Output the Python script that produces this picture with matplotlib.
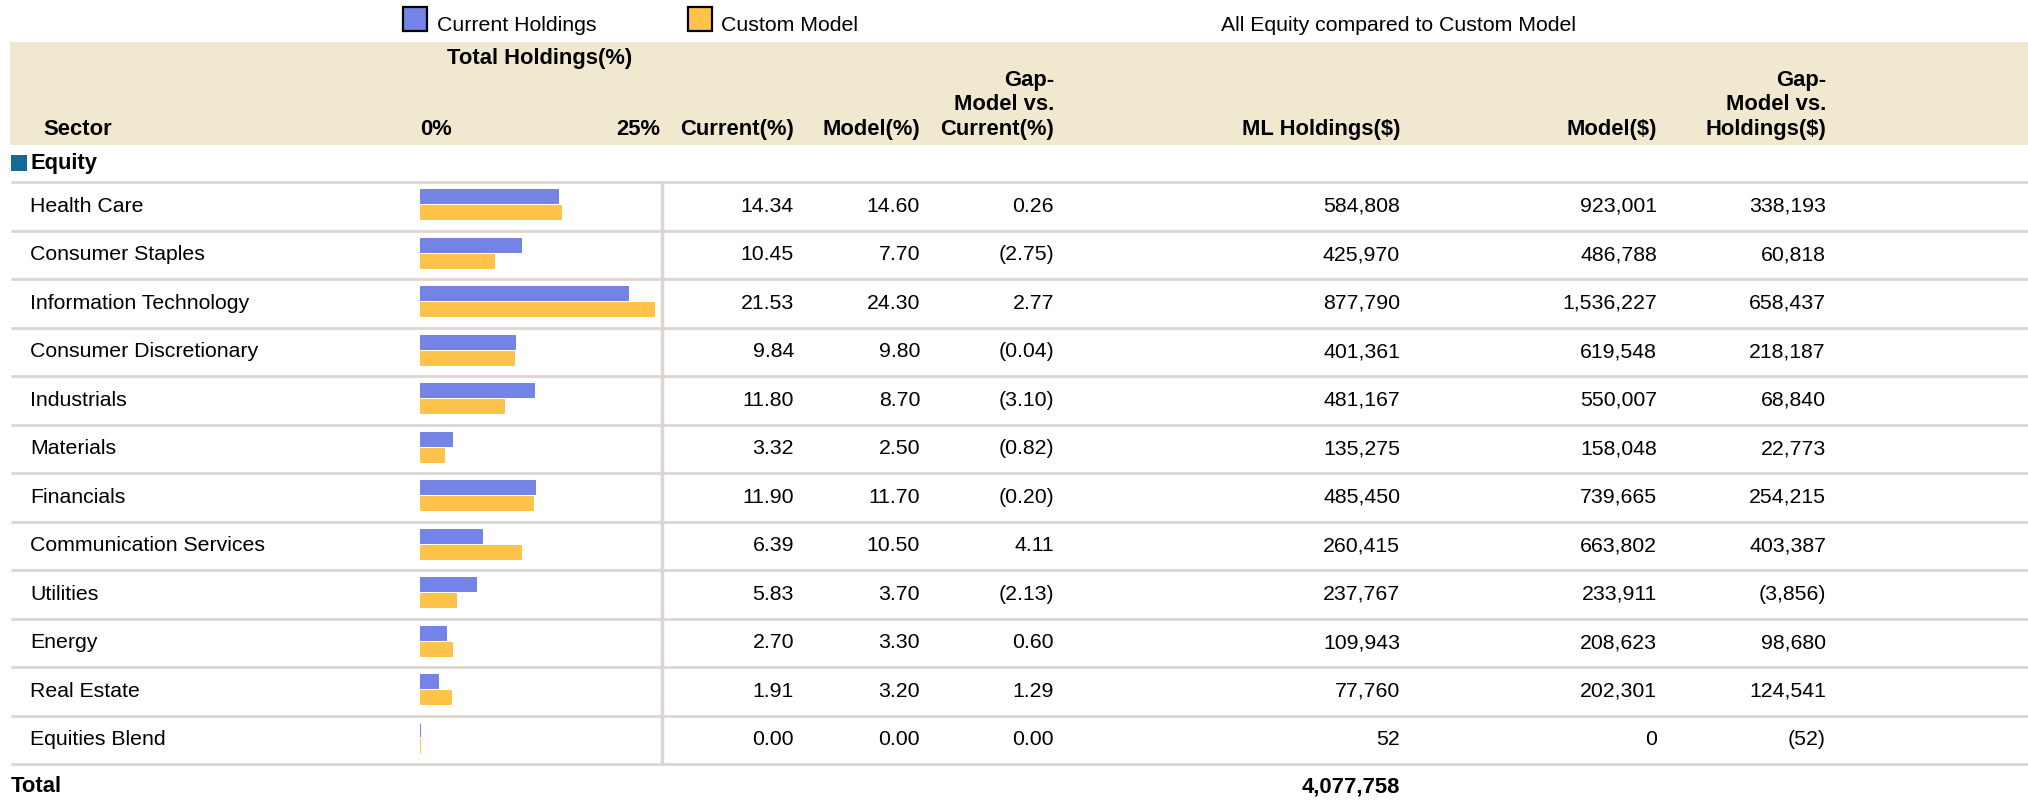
import numpy as np
import matplotlib.pyplot as plt
from matplotlib.patches import Rectangle

plt.rcParams['font.family'] = ['Liberation Sans', 'DejaVu Sans']

sectors = ['Health Care', 'Consumer Staples', 'Information Technology',
           'Consumer Discretionary', 'Industrials', 'Materials', 'Financials',
           'Communication Services', 'Utilities', 'Energy', 'Real Estate',
           'Equities Blend']
current_pct = [14.34, 10.45, 21.53, 9.84, 11.80, 3.32, 11.90, 6.39, 5.83, 2.70, 1.91, 0.00]
model_pct = [14.60, 7.70, 24.30, 9.80, 8.70, 2.50, 11.70, 10.50, 3.70, 3.30, 3.20, 0.00]
gap_pct = [0.26, -2.75, 2.77, -0.04, -3.10, -0.82, -0.20, 4.11, -2.13, 0.60, 1.29, 0.00]
ml_holdings = [584808, 425970, 877790, 401361, 481167, 135275, 485450, 260415,
               237767, 109943, 77760, 52]
model_usd = [923001, 486788, 1536227, 619548, 550007, 158048, 739665, 663802,
             233911, 208623, 202301, 0]
gap_usd = [338193, 60818, 658437, 218187, 68840, 22773, 254215, 403387,
           -3856, 98680, 124541, -52]
total_ml = 4077758

BLUE = '#7383E6'
ORANGE = '#FFC34A'
HEAD_BG = '#F1E9CF'
LINE = '#DDD5D1'
FS = 15.3
FSB = 15.8

W, H = 2028, 806
fig = plt.figure(figsize=(W / 100, H / 100), dpi=100)
ax = fig.add_axes([0, 0, 1, 1])
ax.set_xlim(0, W)
ax.set_ylim(H, 0)
ax.axis('off')


def fmt_pct(v):
    return f'({abs(v):.2f})' if v < 0 else f'{v:.2f}'


def fmt_usd(v):
    return f'({abs(v):,})' if v < 0 else f'{v:,}'


# legend
ax.add_patch(Rectangle((403, 7), 24, 24, facecolor=BLUE, edgecolor='black', lw=1.6))
ax.text(437, 31, 'Current Holdings', fontsize=FS, va='baseline')
ax.add_patch(Rectangle((688, 7), 24, 24, facecolor=ORANGE, edgecolor='black', lw=1.6))
ax.text(721, 31, 'Custom Model', fontsize=FS, va='baseline')
ax.text(1221, 31, 'All Equity compared to Custom Model', fontsize=FS, va='baseline')

# header band
ax.add_patch(Rectangle((10, 42), W - 10, 103, facecolor=HEAD_BG, edgecolor='none'))
bold = dict(fontsize=FSB, fontweight='bold', va='baseline')
ax.text(540, 64, 'Total Holdings(%)', ha='center', **bold)
ax.text(43, 135, 'Sector', **bold)
ax.text(420, 135, '0%', **bold)
ax.text(660, 135, '25%', ha='right', **bold)

col_x = [794, 920, 1054, 1400, 1657, 1826]
headers = [['Current(%)'], ['Model(%)'], ['Gap-', 'Model vs.', 'Current(%)'],
           ['ML Holdings($)'], ['Model($)'], ['Gap-', 'Model vs.', 'Holdings($)']]
for x, lines in zip(col_x, headers):
    for k, s in enumerate(reversed(lines)):
        ax.text(x, 135 - 24.5 * k, s, ha='right', **bold)

# equity group row
ax.add_patch(Rectangle((11, 155), 16, 16, facecolor='#136A92', edgecolor='none'))
ax.text(31, 163, 'Equity', fontsize=FSB, fontweight='bold', va='center')

row0, rh = 182, 48.5
n = len(sectors)
for i in range(n + 1):
    ax.plot([11, W], [row0 + i * rh] * 2, color=LINE, lw=2, solid_capstyle='butt')
ax.plot([662, 662], [row0, row0 + n * rh], color=LINE, lw=2.5, solid_capstyle='butt')

for i, name in enumerate(sectors):
    yc = row0 + (i + 0.5) * rh
    ax.text(30, yc, name, fontsize=FS, va='center')
    vals = [fmt_pct(current_pct[i]), fmt_pct(model_pct[i]), fmt_pct(gap_pct[i]),
            fmt_usd(ml_holdings[i]), fmt_usd(model_usd[i]), fmt_usd(gap_usd[i])]
    for x, s in zip(col_x, vals):
        ax.text(x, yc, s, fontsize=FS, va='center', ha='right')

# total row
ax.text(11, 787, 'Total', fontsize=FSB, fontweight='bold', va='center')
ax.text(col_x[3], 787, fmt_usd(total_ml), fontsize=FSB, fontweight='bold',
        va='center', ha='right')

# bars
bx = fig.add_axes([420 / W, 1 - (row0 + n * rh) / H, 241 / W, n * rh / H])
bx.set_xlim(0, 25)
bx.set_ylim(n, 0)
bx.axis('off')
y = np.arange(n)
bx.barh(y + 0.29, current_pct, height=0.29, color=BLUE, edgecolor=BLUE, lw=0.7)
bx.barh(y + 0.62, model_pct, height=0.29, color=ORANGE, edgecolor=ORANGE, lw=0.7)

fig.savefig('out.png', dpi=100)
